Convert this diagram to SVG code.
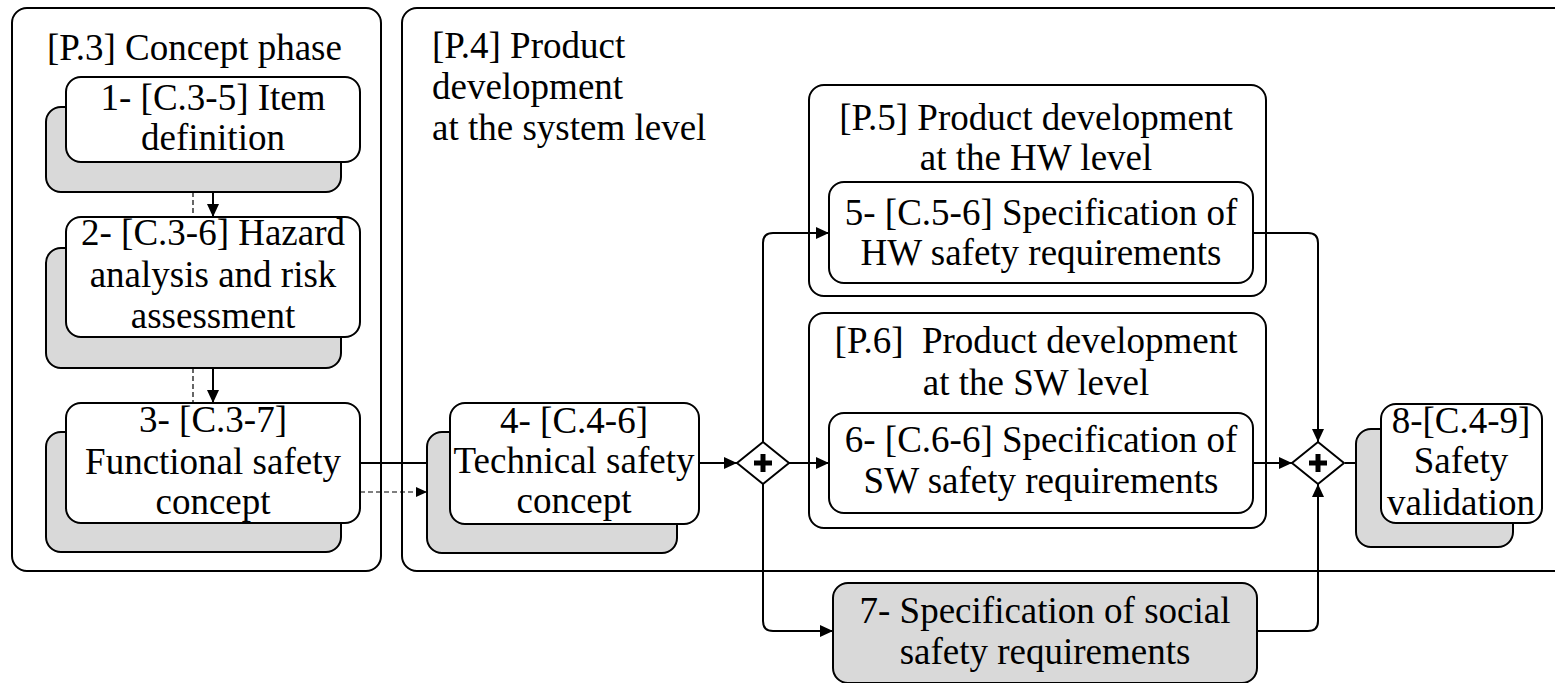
<svg xmlns="http://www.w3.org/2000/svg" width="1555" height="683" viewBox="0 0 1555 683" font-family="'Liberation Serif', 'DejaVu Serif', 'Times New Roman', serif">
<style>
text{font-family:"Liberation Serif","DejaVu Serif","Times New Roman",serif;font-size:37px;fill:#000}
.c{text-anchor:middle}
.frame{fill:#fff;stroke:#000;stroke-width:2}
.box{fill:#fff;stroke:#000;stroke-width:2}
.sh{fill:#d9d9d9;stroke:#000;stroke-width:2}
.ln{fill:none;stroke:#000;stroke-width:2}
.dash{fill:none;stroke:#000;stroke-width:1.2;stroke-dasharray:5 3}
.gw{fill:#fff;stroke:#000;stroke-width:2}
.plus{stroke:#000;stroke-width:5}
</style>
<defs>
<marker id="arr" markerUnits="userSpaceOnUse" markerWidth="14" markerHeight="12" refX="13" refY="6" orient="auto">
<path d="M0,0 L13,6 L0,12 z" fill="#000"/>
</marker>
<marker id="arrs" markerUnits="userSpaceOnUse" markerWidth="12" markerHeight="10" refX="11" refY="5" orient="auto">
<path d="M0,0 L11,5 L0,10 z" fill="#000"/>
</marker>
</defs>

<g id="P3">
<rect class="frame" x="12" y="8" width="369" height="563" rx="15"/>
<text x="47" y="60">[P.3] Concept phase</text>
</g>
<g id="P4">
<rect class="frame" x="402" y="8" width="1170" height="563" rx="15"/>
<text x="432" y="58">[P.4] Product</text>
<text x="432" y="99">development</text>
<text x="432" y="140">at the system level</text>
</g>
<g id="P5">
<rect class="frame" x="809" y="85" width="457" height="211" rx="15"/>
<text class="c" x="1036" y="130">[P.5] Product development</text>
<text class="c" x="1036" y="170">at the HW level</text>
</g>
<g id="P6">
<rect class="frame" x="809" y="313" width="457" height="215" rx="15"/>
<text class="c" x="1036" y="353" xml:space="preserve">[P.6]  Product development</text>
<text class="c" x="1036" y="395">at the SW level</text>
</g>

<g id="connectors">
<line class="dash" x1="193" y1="192" x2="193" y2="217"/>
<line class="ln" x1="213" y1="162" x2="213" y2="217" marker-end="url(#arr)"/>
<line class="dash" x1="193" y1="368" x2="193" y2="403"/>
<line class="ln" x1="213" y1="337" x2="213" y2="403" marker-end="url(#arr)"/>
<line class="ln" x1="360" y1="463" x2="450" y2="463" marker-end="url(#arr)"/>
<line class="dash" x1="360" y1="492" x2="427" y2="492" marker-end="url(#arrs)"/>
<line class="ln" x1="699" y1="463" x2="737" y2="463" marker-end="url(#arr)"/>
<line class="ln" x1="789" y1="463" x2="829" y2="463" marker-end="url(#arr)"/>
<path class="ln" d="M763,442 V243 Q763,233 773,233 H829" marker-end="url(#arr)"/>
<path class="ln" d="M763,484 V621 Q763,631 773,631 H833" marker-end="url(#arr)"/>
<path class="ln" d="M1253,233 H1308 Q1318,233 1318,243 V442" marker-end="url(#arr)"/>
<line class="ln" x1="1253" y1="463" x2="1292" y2="463" marker-end="url(#arr)"/>
<path class="ln" d="M1257,631 H1308 Q1318,631 1318,621 V484" marker-end="url(#arr)"/>
<line class="ln" x1="1345" y1="463" x2="1381" y2="463" marker-end="url(#arr)"/>
</g>

<g id="n1">
<rect class="sh" x="46" y="107" width="295" height="85" rx="15"/>
<rect class="box" x="66" y="77" width="294" height="85" rx="15"/>
<text class="c" x="213" y="110">1- [C.3-5] Item</text>
<text class="c" x="213" y="150">definition</text>
</g>
<g id="n2">
<rect class="sh" x="46" y="248" width="295" height="120" rx="15"/>
<rect class="box" x="66" y="217" width="294" height="120" rx="15"/>
<text class="c" x="213" y="245">2- [C.3-6] Hazard</text>
<text class="c" x="213" y="287">analysis and risk</text>
<text class="c" x="213" y="328">assessment</text>
</g>
<g id="n3">
<rect class="sh" x="46" y="432" width="295" height="120" rx="15"/>
<rect class="box" x="66" y="403" width="294" height="120" rx="15"/>
<text class="c" x="213" y="432">3- [C.3-7]</text>
<text class="c" x="213" y="474">Functional safety</text>
<text class="c" x="213" y="514">concept</text>
</g>
<g id="n4">
<rect class="sh" x="427" y="432" width="250" height="121" rx="15"/>
<rect class="box" x="450" y="403" width="249" height="121" rx="15"/>
<text class="c" x="574" y="433">4- [C.4-6]</text>
<text class="c" x="574" y="473">Technical safety</text>
<text class="c" x="574" y="513">concept</text>
</g>
<g id="g1">
<polygon class="gw" points="763,442 789,463 763,484 737,463"/>
<line class="plus" x1="754" y1="463" x2="772" y2="463"/>
<line class="plus" x1="763" y1="454" x2="763" y2="472"/>
</g>
<g id="n5">
<rect class="box" x="829" y="182" width="424" height="101" rx="15"/>
<text class="c" x="1041" y="225">5- [C.5-6] Specification of</text>
<text class="c" x="1041" y="265">HW safety requirements</text>
</g>
<g id="n6">
<rect class="box" x="829" y="413" width="424" height="100" rx="15"/>
<text class="c" x="1041" y="452">6- [C.6-6] Specification of</text>
<text class="c" x="1041" y="493">SW safety requirements</text>
</g>
<g id="n7">
<rect class="sh" x="833" y="583" width="424" height="100" rx="15"/>
<text class="c" x="1045" y="623">7- Specification of social</text>
<text class="c" x="1045" y="664">safety requirements</text>
</g>
<g id="g2">
<polygon class="gw" points="1318,442 1344,463 1318,484 1292,463"/>
<line class="plus" x1="1309" y1="463" x2="1327" y2="463"/>
<line class="plus" x1="1318" y1="454" x2="1318" y2="472"/>
</g>
<g id="n8">
<rect class="sh" x="1356" y="429" width="157" height="118" rx="15"/>
<rect class="box" x="1381" y="404" width="161" height="119" rx="15"/>
<text class="c" x="1461" y="433">8-[C.4-9]</text>
<text class="c" x="1461" y="473">Safety</text>
<text class="c" x="1461" y="515">validation</text>
</g>
</svg>
